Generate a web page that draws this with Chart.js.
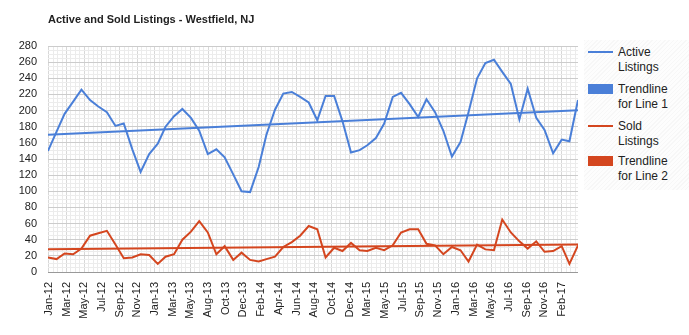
<!DOCTYPE html>
<html><head><meta charset="utf-8">
<script src="https://cdn.jsdelivr.net/npm/chart.js@4.4.0/dist/chart.umd.min.js"></script>
<style>
html,body{margin:0;padding:0;background:#fff;}
#wrap{position:relative;width:689px;height:335px;overflow:hidden;font-family:"Liberation Sans",Arial,sans-serif;}
canvas{position:absolute;left:0;top:0;}
#title{position:absolute;left:48px;top:13px;font-weight:bold;font-size:11px;line-height:13px;color:#222;white-space:nowrap;}
#legendBg{position:absolute;left:584px;top:40px;width:105px;height:150px;background:repeating-linear-gradient(135deg,#f7f7f7 0px,#f7f7f7 1px,#fdfdfd 1px,#fdfdfd 3px);}
.lt{position:absolute;left:618px;width:60px;font-size:12px;line-height:15px;color:#222;}
.sw{position:absolute;left:588px;width:25px;}
</style></head>
<body><div id="wrap"><canvas id="c" width="689" height="335"></canvas>
<div id="title">Active and Sold Listings - Westfield, NJ</div>
<div id="legendBg"></div>
<div id="legend"></div>
</div>
<script>
// ---- data ----
const months = [
 'Jan-12','Feb-12','Mar-12','Apr-12','May-12','Jun-12','Jul-12','Aug-12','Sep-12','Oct-12','Nov-12','Dec-12',
 'Jan-13','Feb-13','Mar-13','Apr-13','May-13','Jun-13','Jul-13','Aug-13','Sep-13','Oct-13','Nov-13','Dec-13',
 'Jan-14','Feb-14','Mar-14','Apr-14','May-14','Jun-14','Jul-14','Aug-14','Sep-14','Oct-14','Nov-14','Dec-14',
 'Jan-15','Feb-15','Mar-15','Apr-15','May-15','Jun-15','Jul-15','Aug-15','Sep-15','Oct-15','Nov-15','Dec-15',
 'Jan-16','Feb-16','Mar-16','Apr-16','May-16','Jun-16','Jul-16','Aug-16','Sep-16','Oct-16','Nov-16','Dec-16',
 'Jan-17','Feb-17','Mar-17','Apr-17'];
const activeListings = [
 150,174,196,211,226,213,205,198,181,184,152,124,
 146,159,180,193,202,191,175,146,152,142,121,100,
 99,130,170,201,221,223,217,210,188,218,218,187,
 148,151,157,166,184,217,222,208,192,214,198,175,
 143,161,198,240,259,263,248,233,189,227,191,176,
 147,164,162,213];
const soldListings = [
 18,16,23,22,29,45,48,51,34,17,18,22,
 21,10,19,22,40,50,63,49,22,32,15,24,
 15,13,16,19,31,37,45,57,53,18,30,26,
 36,27,26,30,27,33,49,53,53,35,33,22,
 31,27,13,34,28,27,65,49,38,29,38,25,
 26,32,10,33];
const tickLabels = ['Jan-12','Mar-12','May-12','Jul-12','Sep-12','Nov-12','Jan-13','Mar-13','May-13','Aug-13',
 'Oct-13','Dec-13','Feb-14','Apr-14','Jun-14','Aug-14','Oct-14','Dec-14','Mar-15','May-15','Jul-15','Sep-15',
 'Nov-15','Jan-16','Mar-16','May-16','Jul-16','Sep-16','Nov-16','Feb-17'];
const seriesNames = ['Active Listings','Trendline for Line 1','Sold Listings','Trendline for Line 2'];

// ---- helpers ----
const MON = ['Jan','Feb','Mar','Apr','May','Jun','Jul','Aug','Sep','Oct','Nov','Dec'];
const BASE = Date.UTC(2012,0,1);
function dayOf(lbl){ const [m,y]=lbl.split('-'); return (Date.UTC(2000+ +y, MON.indexOf(m), 1)-BASE)/86400000; }
const xs = months.map(dayOf);
function pts(vals){ return vals.map((v,i)=>({x:xs[i], y:v})); }
function trend(vals){
  const n=vals.length; let sx=0,sy=0,sxx=0,sxy=0;
  for(let i=0;i<n;i++){sx+=xs[i];sy+=vals[i];sxx+=xs[i]*xs[i];sxy+=xs[i]*vals[i];}
  const b=(n*sxy-sx*sy)/(n*sxx-sx*sx), a=(sy-b*sx)/n;
  return [{x:xs[0],y:a+b*xs[0]},{x:xs[n-1],y:a+b*xs[n-1]}];
}
const BLUE='#4a7fd8', RED='#d4461f';
const FONT='"Liberation Sans", Arial, sans-serif';
const TICK0=3, TICKSTEP=64;

new Chart(document.getElementById('c'), {
  type:'line',
  data:{datasets:[
    {label:seriesNames[0], data:pts(activeListings), borderColor:BLUE, borderWidth:2, pointRadius:0, tension:0, fill:false},
    {label:seriesNames[1], data:trend(activeListings), borderColor:BLUE, borderWidth:2, pointRadius:0, fill:false},
    {label:seriesNames[2], data:pts(soldListings), borderColor:RED, borderWidth:2, pointRadius:0, tension:0, fill:false},
    {label:seriesNames[3], data:trend(soldListings), borderColor:RED, borderWidth:2, pointRadius:0, fill:false}
  ]},
  options:{
    responsive:false, animation:false,
    layout:{padding:{left:0,top:46,right:111,bottom:0}},
    plugins:{legend:{display:false}, tooltip:{enabled:false}, title:{display:false}},
    scales:{
      x:{type:'linear', min:xs[0], max:xs[xs.length-1],
        afterBuildTicks:s=>{const t=[];for(let v=TICK0;v<=s.max;v+=TICKSTEP/4)t.push({value:v});s.ticks=t;},
        ticks:{autoSkip:false,minRotation:90,maxRotation:90,padding:10,color:'#222',font:{size:11,family:FONT},
          callback:(v,i)=> i%4===0 ? (tickLabels[i/4]||'') : ''},
        grid:{drawTicks:false,color:c=> (c.index%4===0)?'#d8d8d8':'#ebebeb',lineWidth:1},
        border:{display:false},
        afterFit:s=>{s.height=63;}
      },
      y:{min:0,max:280,
        afterBuildTicks:s=>{const t=[];for(let v=0;v<=280;v+=5)t.push({value:v});s.ticks=t;},
        ticks:{autoSkip:false,padding:11,color:'#222',font:{size:11,family:FONT},
          callback:v=> v%20===0 ? v : ''},
        grid:{drawTicks:false,color:c=> c.tick.value===0?'#999999':(c.tick.value%20===0?'#cccccc':'#ececec'),lineWidth:1},
        border:{display:false},
        afterFit:s=>{s.width=48;}
      }
    }
  }
});

// ---- legend (HTML text) ----
const legendItems=[
  {name:seriesNames[0], kind:'line', color:BLUE, cy:52},
  {name:seriesNames[1], kind:'box',  color:BLUE, cy:89},
  {name:seriesNames[2], kind:'line', color:RED,  cy:126},
  {name:seriesNames[3], kind:'box',  color:RED,  cy:161}
];
const lg=document.getElementById('legend');
legendItems.forEach(it=>{
  const sw=document.createElement('div'); sw.className='sw';
  if(it.kind==='line'){ sw.style.top=(it.cy-1)+'px'; sw.style.height='2px'; }
  else { sw.style.top=(it.cy-5)+'px'; sw.style.height='10px'; }
  sw.style.background=it.color; lg.appendChild(sw);
  const t=document.createElement('div'); t.className='lt'; t.style.top=(it.cy-7.5)+'px';
  t.textContent=it.name; lg.appendChild(t);
});
</script>
</body></html>
